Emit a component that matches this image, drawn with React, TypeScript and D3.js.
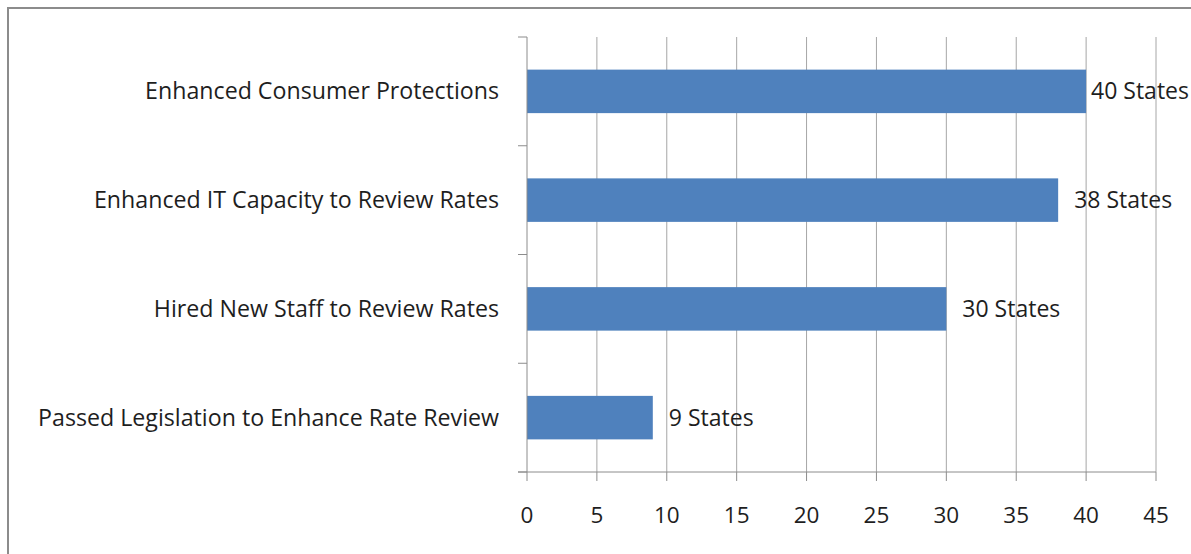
import React from "react";
import * as d3 from "d3";

// chart values
const categories = [
  "Enhanced Consumer Protections",
  "Enhanced IT Capacity to Review Rates",
  "Hired New Staff to Review Rates",
  "Passed Legislation to Enhance Rate Review",
];
const stateCounts = [40, 38, 30, 9];
const xTicks = [0, 5, 10, 15, 20, 25, 30, 35, 40, 45];

const W = 1191;
const H = 554;
const margin = { top: 37, right: 35, bottom: 82, left: 527 };
const FONT = "'Open Sans', 'Noto Sans', sans-serif";
const TEXT = "#1e1e1e";
const GRID = "#a6a6a6";
const LABEL_W = 98;

const App = () => {
  const x = d3
    .scaleLinear()
    .domain([0, 45])
    .range([margin.left, W - margin.right]);

  const y = d3
    .scaleBand()
    .domain(categories)
    .range([margin.top, H - margin.bottom])
    .paddingInner(0.6)
    .paddingOuter(0.3);

  const [y0, y1] = y.range();
  const step = y.step();
  const bounds = d3.range(categories.length + 1).map((i) => y0 + i * step);

  return (
    <svg
      width={W}
      height={H}
      style={{ position: "absolute", left: 0, top: 0, background: "#fff" }}
      fontFamily={FONT}
    >
      {/* outer chart frame, open on right and bottom */}
      <path d={`M8,${H} V8 H${W}`} fill="none" stroke="#8c8c8c" strokeWidth={2} />

      {/* vertical gridlines */}
      {xTicks.slice(1).map((t) => (
        <line key={t} x1={x(t)} x2={x(t)} y1={y0} y2={y1} stroke={GRID} strokeWidth={1} />
      ))}

      {/* bars */}
      {categories.map((c, i) => (
        <rect
          key={c}
          x={x(0)}
          y={y(c)}
          width={x(stateCounts[i]) - x(0)}
          height={y.bandwidth()}
          fill="#4f81bd"
        />
      ))}

      {/* category axis */}
      <line x1={x(0)} x2={x(0)} y1={y0} y2={y1} stroke="#8c8c8c" />
      {bounds.map((b, i) => (
        <line key={i} x1={x(0) - 9} x2={x(0)} y1={b} y2={b} stroke="#8c8c8c" />
      ))}
      {categories.map((c) => (
        <text
          key={c}
          x={x(0) - 28}
          y={(y(c) || 0) + y.bandwidth() / 2}
          dy="0.35em"
          textAnchor="end"
          fontSize={23.2}
          fill={TEXT}
        >
          {c}
        </text>
      ))}

      {/* value axis */}
      <line x1={x(0) - 9} x2={x(45)} y1={y1} y2={y1} stroke="#8c8c8c" />
      {xTicks.map((t) => (
        <g key={t}>
          <line x1={x(t)} x2={x(t)} y1={y1} y2={y1 + 9} stroke="#8c8c8c" />
          <text x={x(t)} y={y1 + 51} textAnchor="middle" fontSize={22.5} fill={TEXT}>
            {t}
          </text>
        </g>
      ))}

      {/* data labels */}
      {categories.map((c, i) => {
        const lx = Math.min(x(stateCounts[i]) + 16, W - 2 - LABEL_W);
        return (
          <text
            key={c}
            x={lx}
            y={(y(c) || 0) + y.bandwidth() / 2}
            dy="0.35em"
            fontSize={23}
            fill={TEXT}
          >
            {stateCounts[i]} States
          </text>
        );
      })}
    </svg>
  );
};

export default App;
